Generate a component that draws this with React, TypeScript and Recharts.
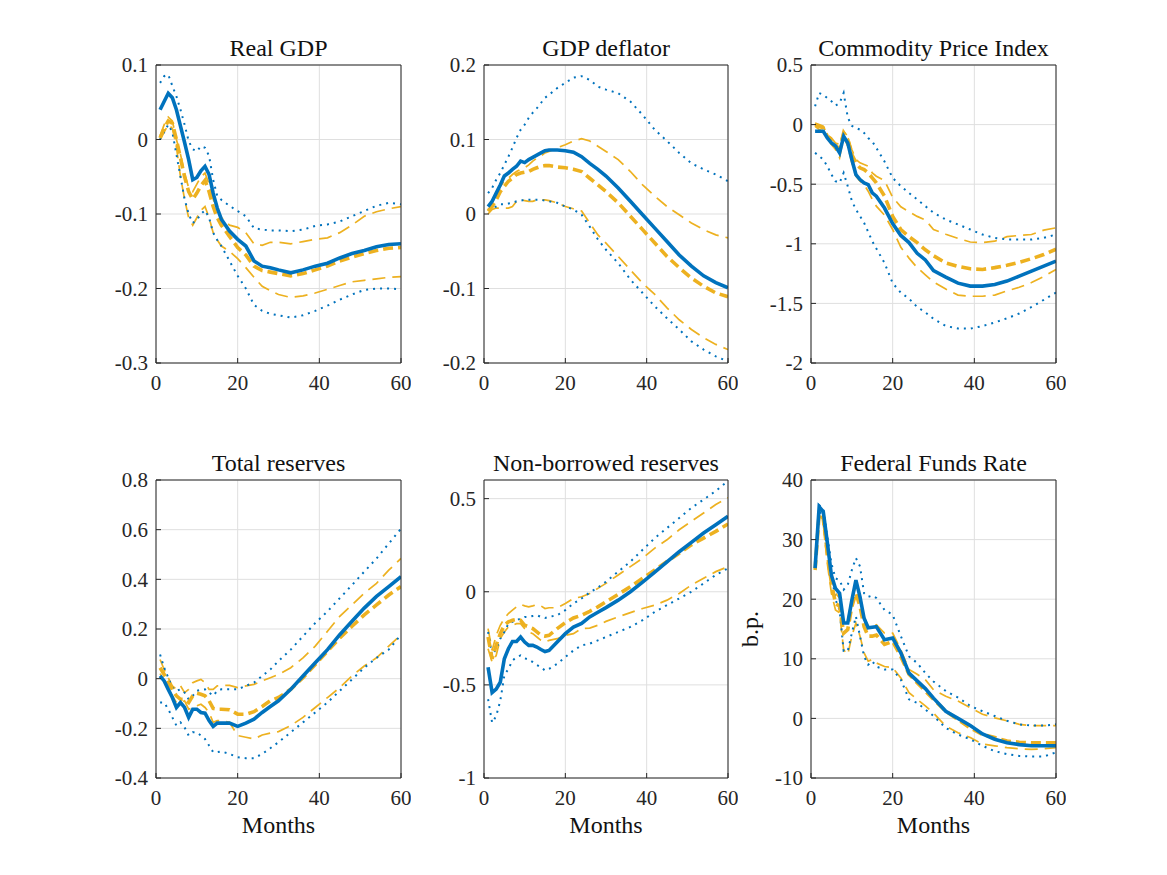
import React from 'react';
import { LineChart, Line, XAxis, YAxis, CartesianGrid } from 'recharts';

// ---------- data ----------
const MONTHS = [1, 2, 3, 4, 5, 6, 7, 8, 9, 10, 11, 12, 13, 14, 15, 16, 18, 20, 22, 24, 26, 28, 30, 33, 36, 39, 42, 45, 48, 51, 54, 57, 60];
const X_TICKS = [0, 20, 40, 60];

const TITLES = ['Real GDP', 'GDP deflator', 'Commodity Price Index', 'Total reserves', 'Non-borrowed reserves', 'Federal Funds Rate'];

const gdpTicks = [0.1, 0, -0.1, -0.2, -0.3];
const defTicks = [0.2, 0.1, 0, -0.1, -0.2];
const cpiTicks = [0.5, 0, -0.5, -1, -1.5, -2];
const trTicks = [0.8, 0.6, 0.4, 0.2, 0, -0.2, -0.4];
const nbrTicks = [0.5, 0, -0.5, -1];
const ffrTicks = [40, 30, 20, 10, 0, -10];

// Real GDP
const gdpBlue = [0.040, 0.051, 0.062, 0.056, 0.040, 0.018, -0.004, -0.027, -0.054, -0.051, -0.042, -0.036, -0.047, -0.072, -0.092, -0.107, -0.123, -0.134, -0.143, -0.163, -0.170, -0.172, -0.175, -0.179, -0.175, -0.170, -0.166, -0.159, -0.153, -0.149, -0.144, -0.141, -0.140];
const gdpBlueHi = [0.076, 0.085, 0.087, 0.072, 0.058, 0.040, 0.020, -0.002, -0.013, -0.016, -0.009, -0.011, -0.022, -0.054, -0.076, -0.081, -0.089, -0.096, -0.103, -0.119, -0.121, -0.122, -0.122, -0.123, -0.121, -0.116, -0.114, -0.110, -0.103, -0.096, -0.089, -0.085, -0.087];
const gdpBlueLo = [0.000, 0.010, 0.020, 0.010, -0.020, -0.050, -0.080, -0.100, -0.112, -0.108, -0.100, -0.095, -0.105, -0.125, -0.135, -0.143, -0.163, -0.183, -0.200, -0.222, -0.230, -0.234, -0.236, -0.239, -0.236, -0.230, -0.223, -0.215, -0.208, -0.202, -0.200, -0.200, -0.201];
const gdpOr = [0.002, 0.015, 0.025, 0.022, 0.000, -0.025, -0.050, -0.070, -0.080, -0.072, -0.062, -0.055, -0.070, -0.090, -0.105, -0.115, -0.130, -0.145, -0.155, -0.170, -0.176, -0.178, -0.180, -0.183, -0.180, -0.175, -0.170, -0.163, -0.158, -0.153, -0.149, -0.146, -0.145];
const gdpOrHi = [0.005, 0.020, 0.030, 0.025, 0.000, -0.020, -0.045, -0.065, -0.070, -0.060, -0.050, -0.045, -0.060, -0.080, -0.095, -0.105, -0.115, -0.118, -0.125, -0.140, -0.142, -0.138, -0.138, -0.140, -0.137, -0.134, -0.132, -0.125, -0.115, -0.103, -0.097, -0.093, -0.090];
const gdpOrLo = [0.000, 0.010, 0.020, 0.015, -0.010, -0.050, -0.080, -0.105, -0.115, -0.105, -0.095, -0.090, -0.105, -0.125, -0.135, -0.143, -0.150, -0.160, -0.172, -0.185, -0.197, -0.203, -0.208, -0.212, -0.210, -0.206, -0.201, -0.196, -0.191, -0.189, -0.187, -0.185, -0.184];

// GDP deflator
const defBlue = [0.010, 0.017, 0.028, 0.039, 0.051, 0.055, 0.060, 0.064, 0.071, 0.069, 0.073, 0.076, 0.079, 0.082, 0.085, 0.086, 0.086, 0.085, 0.083, 0.077, 0.068, 0.060, 0.051, 0.035, 0.017, -0.001, -0.019, -0.037, -0.055, -0.070, -0.083, -0.092, -0.099];
const defBlueHi = [0.028, 0.035, 0.046, 0.055, 0.066, 0.077, 0.089, 0.102, 0.113, 0.120, 0.129, 0.136, 0.142, 0.149, 0.156, 0.160, 0.169, 0.176, 0.183, 0.185, 0.180, 0.171, 0.167, 0.162, 0.151, 0.133, 0.113, 0.098, 0.082, 0.068, 0.060, 0.053, 0.044];
const defBlueLo = [0.006, 0.008, 0.010, 0.013, 0.013, 0.014, 0.015, 0.017, 0.018, 0.019, 0.019, 0.019, 0.019, 0.019, 0.018, 0.017, 0.015, 0.010, 0.006, -0.001, -0.017, -0.034, -0.048, -0.066, -0.088, -0.106, -0.124, -0.140, -0.155, -0.171, -0.182, -0.191, -0.198];
const defOr = [0.004, 0.010, 0.019, 0.030, 0.037, 0.044, 0.048, 0.053, 0.055, 0.056, 0.057, 0.060, 0.062, 0.064, 0.065, 0.065, 0.063, 0.062, 0.060, 0.057, 0.048, 0.039, 0.030, 0.015, -0.003, -0.021, -0.039, -0.057, -0.072, -0.086, -0.097, -0.106, -0.111];
const defOrHi = [0.004, 0.015, 0.026, 0.037, 0.044, 0.048, 0.053, 0.057, 0.060, 0.062, 0.066, 0.071, 0.075, 0.078, 0.082, 0.084, 0.089, 0.093, 0.098, 0.101, 0.098, 0.091, 0.084, 0.073, 0.057, 0.039, 0.024, 0.010, -0.001, -0.012, -0.021, -0.028, -0.032];
const defOrLo = [0.000, 0.006, 0.008, 0.008, 0.008, 0.008, 0.010, 0.017, 0.019, 0.018, 0.017, 0.017, 0.019, 0.019, 0.019, 0.018, 0.015, 0.010, 0.007, 0.004, -0.012, -0.028, -0.039, -0.057, -0.075, -0.093, -0.108, -0.126, -0.142, -0.155, -0.166, -0.175, -0.182];

// Commodity Price Index
const cpiBlue = [-0.056, -0.056, -0.056, -0.112, -0.154, -0.180, -0.237, -0.098, -0.154, -0.293, -0.419, -0.461, -0.489, -0.503, -0.573, -0.600, -0.700, -0.830, -0.930, -0.990, -1.080, -1.135, -1.225, -1.280, -1.330, -1.355, -1.355, -1.341, -1.313, -1.271, -1.229, -1.187, -1.145];
const cpiBlueHi = [0.154, 0.265, 0.251, 0.223, 0.196, 0.160, 0.180, 0.265, 0.060, -0.010, -0.028, -0.042, -0.070, -0.112, -0.140, -0.196, -0.310, -0.447, -0.517, -0.573, -0.628, -0.684, -0.740, -0.796, -0.838, -0.880, -0.922, -0.950, -0.964, -0.964, -0.964, -0.950, -0.922];
const cpiBlueLo = [-0.237, -0.265, -0.293, -0.349, -0.419, -0.475, -0.489, -0.405, -0.517, -0.640, -0.712, -0.768, -0.824, -0.900, -0.978, -1.040, -1.160, -1.330, -1.410, -1.460, -1.530, -1.575, -1.630, -1.690, -1.710, -1.712, -1.690, -1.660, -1.625, -1.585, -1.530, -1.470, -1.410];
const cpiOr = [0.000, -0.014, -0.028, -0.098, -0.140, -0.176, -0.209, -0.070, -0.126, -0.251, -0.321, -0.363, -0.377, -0.405, -0.447, -0.489, -0.600, -0.770, -0.880, -0.940, -0.990, -1.050, -1.100, -1.160, -1.190, -1.210, -1.215, -1.200, -1.180, -1.155, -1.125, -1.090, -1.045];
const cpiOrHi = [0.014, 0.000, -0.014, -0.084, -0.112, -0.154, -0.168, -0.056, -0.098, -0.209, -0.293, -0.321, -0.335, -0.349, -0.405, -0.433, -0.470, -0.610, -0.690, -0.730, -0.770, -0.800, -0.880, -0.920, -0.955, -0.985, -0.990, -0.978, -0.940, -0.930, -0.922, -0.885, -0.866];
const cpiOrLo = [-0.014, -0.042, -0.056, -0.112, -0.168, -0.209, -0.279, -0.098, -0.182, -0.321, -0.433, -0.475, -0.503, -0.559, -0.628, -0.684, -0.760, -0.880, -1.030, -1.120, -1.200, -1.260, -1.320, -1.380, -1.430, -1.440, -1.440, -1.430, -1.395, -1.365, -1.325, -1.275, -1.215];

// Total reserves
const trBlue = [0.011, -0.009, -0.043, -0.076, -0.116, -0.096, -0.116, -0.156, -0.123, -0.123, -0.136, -0.139, -0.169, -0.192, -0.179, -0.179, -0.179, -0.192, -0.179, -0.163, -0.136, -0.112, -0.089, -0.043, 0.011, 0.064, 0.117, 0.177, 0.231, 0.284, 0.331, 0.371, 0.411];
const trBlueHi = [0.097, 0.044, 0.004, -0.036, -0.049, -0.043, -0.056, -0.083, -0.069, -0.049, -0.045, -0.043, -0.056, -0.069, -0.049, -0.043, -0.043, -0.043, -0.029, -0.016, 0.011, 0.037, 0.071, 0.117, 0.171, 0.224, 0.271, 0.324, 0.377, 0.431, 0.484, 0.544, 0.604];
const trBlueLo = [-0.096, -0.096, -0.123, -0.156, -0.189, -0.176, -0.196, -0.229, -0.216, -0.216, -0.229, -0.243, -0.269, -0.296, -0.296, -0.293, -0.303, -0.316, -0.320, -0.320, -0.303, -0.280, -0.256, -0.216, -0.176, -0.136, -0.096, -0.049, -0.003, 0.044, 0.084, 0.117, 0.177];
const trOr = [0.044, 0.017, -0.016, -0.043, -0.069, -0.083, -0.083, -0.096, -0.069, -0.059, -0.063, -0.069, -0.089, -0.120, -0.123, -0.123, -0.125, -0.143, -0.143, -0.133, -0.112, -0.089, -0.076, -0.043, 0.004, 0.057, 0.111, 0.164, 0.211, 0.257, 0.297, 0.337, 0.371];
const trOrHi = [0.077, 0.037, 0.004, -0.029, -0.043, -0.029, -0.056, -0.043, -0.016, -0.009, -0.003, -0.016, -0.043, -0.043, -0.029, -0.027, -0.027, -0.036, -0.029, -0.023, -0.009, 0.004, 0.017, 0.044, 0.084, 0.131, 0.191, 0.251, 0.297, 0.344, 0.384, 0.437, 0.484];
const trOrLo = [0.020, -0.009, -0.043, -0.069, -0.096, -0.096, -0.089, -0.123, -0.116, -0.109, -0.103, -0.116, -0.136, -0.176, -0.169, -0.169, -0.176, -0.229, -0.236, -0.243, -0.227, -0.219, -0.213, -0.189, -0.156, -0.116, -0.076, -0.036, 0.011, 0.051, 0.084, 0.131, 0.177];

// Non-borrowed reserves
const nbrBlue = [-0.405, -0.541, -0.523, -0.486, -0.360, -0.306, -0.267, -0.267, -0.243, -0.270, -0.288, -0.288, -0.297, -0.310, -0.321, -0.315, -0.270, -0.225, -0.190, -0.170, -0.135, -0.110, -0.085, -0.045, 0.000, 0.052, 0.105, 0.160, 0.215, 0.265, 0.315, 0.360, 0.405];
const nbrBlueHi = [-0.216, -0.342, -0.306, -0.252, -0.216, -0.171, -0.162, -0.153, -0.144, -0.135, -0.135, -0.130, -0.126, -0.135, -0.141, -0.135, -0.126, -0.099, -0.063, -0.036, -0.004, 0.022, 0.054, 0.108, 0.162, 0.225, 0.288, 0.342, 0.396, 0.450, 0.495, 0.541, 0.595];
const nbrBlueLo = [-0.577, -0.703, -0.667, -0.586, -0.450, -0.414, -0.369, -0.351, -0.342, -0.357, -0.364, -0.378, -0.393, -0.405, -0.423, -0.414, -0.387, -0.351, -0.315, -0.288, -0.279, -0.261, -0.243, -0.216, -0.189, -0.153, -0.108, -0.072, -0.036, 0.000, 0.045, 0.090, 0.126];
const nbrOr = [-0.243, -0.360, -0.288, -0.225, -0.180, -0.162, -0.153, -0.148, -0.153, -0.180, -0.189, -0.198, -0.216, -0.234, -0.238, -0.234, -0.198, -0.166, -0.141, -0.126, -0.105, -0.081, -0.054, -0.014, 0.027, 0.072, 0.117, 0.162, 0.207, 0.252, 0.288, 0.324, 0.364];
const nbrOrHi = [-0.198, -0.315, -0.234, -0.180, -0.144, -0.117, -0.099, -0.081, -0.068, -0.076, -0.081, -0.076, -0.068, -0.076, -0.090, -0.086, -0.086, -0.063, -0.036, -0.027, -0.009, 0.018, 0.045, 0.090, 0.135, 0.180, 0.234, 0.279, 0.333, 0.378, 0.423, 0.468, 0.505];
const nbrOrLo = [-0.306, -0.378, -0.342, -0.252, -0.216, -0.189, -0.180, -0.171, -0.171, -0.198, -0.216, -0.225, -0.243, -0.261, -0.270, -0.261, -0.252, -0.234, -0.225, -0.198, -0.195, -0.180, -0.159, -0.135, -0.112, -0.090, -0.072, -0.045, -0.009, 0.036, 0.072, 0.108, 0.135];

// Federal Funds Rate (b.p.)
const ffrBlue = [25.2, 35.5, 34.7, 29.5, 24.0, 21.8, 21.0, 16.0, 16.0, 19.8, 23.2, 20.4, 16.8, 15.2, 15.3, 15.4, 13.2, 13.5, 11.0, 7.6, 6.3, 5.0, 3.4, 1.2, 0.0, -1.2, -2.6, -3.5, -4.1, -4.4, -4.6, -4.6, -4.6];
const ffrBlueHi = [25.2, 35.8, 35.2, 30.5, 26.0, 23.5, 23.2, 21.6, 22.4, 24.9, 26.9, 25.5, 21.0, 20.4, 20.6, 20.2, 18.2, 17.4, 13.8, 10.4, 9.3, 7.6, 6.2, 4.6, 3.5, 2.1, 1.2, 0.4, -0.4, -1.0, -1.2, -1.2, -1.0];
const ffrBlueLo = [25.2, 35.2, 33.3, 28.8, 24.3, 19.9, 18.2, 11.3, 11.3, 14.3, 17.1, 13.8, 10.4, 9.0, 9.6, 8.7, 8.2, 8.2, 6.5, 3.2, 2.6, 1.5, 0.4, -1.6, -2.7, -3.5, -4.6, -5.5, -6.0, -6.3, -6.4, -6.4, -5.7];
const ffrOr = [24.9, 34.4, 33.5, 27.7, 22.7, 19.3, 18.8, 14.3, 14.9, 18.8, 21.0, 18.8, 15.4, 13.8, 13.8, 14.0, 12.4, 12.9, 10.4, 7.4, 6.0, 4.6, 3.2, 1.2, -0.2, -1.6, -2.7, -3.2, -3.8, -4.0, -4.1, -4.1, -4.1];
const ffrOrHi = [25.5, 34.7, 34.1, 28.8, 23.8, 21.0, 20.2, 16.0, 16.5, 20.2, 22.1, 20.2, 17.1, 15.4, 15.4, 15.7, 14.3, 14.3, 11.5, 8.2, 7.4, 6.5, 4.8, 3.7, 2.9, 1.8, 0.7, 0.1, -0.4, -1.0, -1.2, -1.2, -1.2];
const ffrOrLo = [24.9, 33.8, 32.7, 26.0, 21.0, 18.2, 17.7, 11.5, 10.7, 13.8, 16.0, 13.8, 11.0, 9.6, 9.9, 9.3, 8.7, 8.5, 6.8, 4.3, 3.2, 2.1, 0.9, -1.3, -2.4, -3.2, -4.3, -4.6, -4.9, -5.1, -5.2, -5.1, -4.9];

// ---------- styling / layout ----------
const BLUE = '#0072BD';
const ORANGE = '#EDB120';
const AXIS = '#262626';
const FONT = '"Liberation Serif", "Times New Roman", serif';

const COLS = [
  { left: 156, right: 401 },
  { left: 484, right: 728 },
  { left: 811, right: 1056 },
];
const ROWS = [
  { top: 65, bottom: 363 },
  { top: 480, bottom: 778 },
];

type PanelDef = {
  title: string;
  col: number;
  row: number;
  domain: [number, number];
  ticks: number[];
  s: number[][]; // blue, blueHi, blueLo, orange, orangeHi, orangeLo
};

const PANELS: PanelDef[] = [
  { title: TITLES[0], col: 0, row: 0, domain: [-0.3, 0.1], ticks: gdpTicks, s: [gdpBlue, gdpBlueHi, gdpBlueLo, gdpOr, gdpOrHi, gdpOrLo] },
  { title: TITLES[1], col: 1, row: 0, domain: [-0.2, 0.2], ticks: defTicks, s: [defBlue, defBlueHi, defBlueLo, defOr, defOrHi, defOrLo] },
  { title: TITLES[2], col: 2, row: 0, domain: [-2, 0.5], ticks: cpiTicks, s: [cpiBlue, cpiBlueHi, cpiBlueLo, cpiOr, cpiOrHi, cpiOrLo] },
  { title: TITLES[3], col: 0, row: 1, domain: [-0.4, 0.8], ticks: trTicks, s: [trBlue, trBlueHi, trBlueLo, trOr, trOrHi, trOrLo] },
  { title: TITLES[4], col: 1, row: 1, domain: [-1, 0.6], ticks: nbrTicks, s: [nbrBlue, nbrBlueHi, nbrBlueLo, nbrOr, nbrOrHi, nbrOrLo] },
  { title: TITLES[5], col: 2, row: 1, domain: [-10, 40], ticks: ffrTicks, s: [ffrBlue, ffrBlueHi, ffrBlueLo, ffrOr, ffrOrHi, ffrOrLo] },
];

const PADL = 70;
const PADR = 10;
const PADT = 40;
const PADB = 70;

function Panel({ p }: { p: PanelDef }) {
  const c = COLS[p.col];
  const r = ROWS[p.row];
  const [b, bh, bl, o, oh, ol] = p.s;
  const data = MONTHS.map((m, i) => ({ m, b: b[i], bh: bh[i], bl: bl[i], o: o[i], oh: oh[i], ol: ol[i] }));
  const w = c.right - c.left + PADL + PADR;
  const h = r.bottom - r.top + PADT + PADB;
  const tickStyle = { fill: AXIS, fontSize: 21, fontFamily: FONT };
  return (
    <div style={{ position: 'absolute', left: c.left - PADL, top: r.top - PADT }}>
      <LineChart width={w} height={h} data={data} margin={{ top: PADT - 1, right: PADR - 1, left: 0, bottom: PADB - 30 }}>
        <CartesianGrid stroke="#dfdfdf" strokeWidth={1} />
        <XAxis
          dataKey="m"
          type="number"
          domain={[0, 60]}
          ticks={X_TICKS}
          interval={0}
          height={30}
          tickSize={-5}
          tickMargin={17}
          stroke={AXIS}
          tick={tickStyle}
          allowDataOverflow
        />
        <XAxis
          xAxisId="top"
          orientation="top"
          dataKey="m"
          type="number"
          domain={[0, 60]}
          ticks={X_TICKS}
          interval={0}
          height={1}
          tickSize={-5}
          tick={false}
          stroke={AXIS}
          allowDataOverflow
        />
        <YAxis
          type="number"
          domain={p.domain}
          ticks={p.ticks}
          interval={0}
          width={PADL}
          tickSize={-5}
          tickMargin={13}
          stroke={AXIS}
          tick={tickStyle}
          allowDataOverflow
        />
        <YAxis
          yAxisId="right"
          orientation="right"
          type="number"
          domain={p.domain}
          ticks={p.ticks}
          interval={0}
          width={1}
          tickSize={-5}
          tick={false}
          stroke={AXIS}
          allowDataOverflow
        />
        <Line dataKey="oh" type="linear" stroke={ORANGE} strokeWidth={1.7} strokeDasharray="13 7" dot={false} isAnimationActive={false} />
        <Line dataKey="ol" type="linear" stroke={ORANGE} strokeWidth={1.7} strokeDasharray="13 7" dot={false} isAnimationActive={false} />
        <Line dataKey="bh" type="linear" stroke={BLUE} strokeWidth={2} strokeDasharray="2 5" dot={false} isAnimationActive={false} />
        <Line dataKey="bl" type="linear" stroke={BLUE} strokeWidth={2} strokeDasharray="2 5" dot={false} isAnimationActive={false} />
        <Line dataKey="o" type="linear" stroke={ORANGE} strokeWidth={3.6} strokeDasharray="10 5" dot={false} isAnimationActive={false} />
        <Line dataKey="b" type="linear" stroke={BLUE} strokeWidth={3.6} dot={false} isAnimationActive={false} />
      </LineChart>
    </div>
  );
}

export default function App() {
  return (
    <div style={{ position: 'absolute', left: 0, top: 0, width: 1167, height: 875, background: '#ffffff', fontFamily: FONT }}>
      {PANELS.map((p, i) => (
        <Panel key={i} p={p} />
      ))}
      <svg width={1167} height={875} style={{ position: 'absolute', left: 0, top: 0, pointerEvents: 'none' }}>
        {PANELS.map((p, i) => {
          const c = COLS[p.col];
          const r = ROWS[p.row];
          return (
            <text key={'t' + i} x={(c.left + c.right) / 2} y={r.top - 9} textAnchor="middle" fontFamily={FONT} fontSize={24} fill="#111">
              {p.title}
            </text>
          );
        })}
        {COLS.map((c, i) => (
          <text key={'m' + i} x={(c.left + c.right) / 2} y={ROWS[1].bottom + 55} textAnchor="middle" fontFamily={FONT} fontSize={24} fill="#111">
            Months
          </text>
        ))}
        <text
          x={758}
          y={(ROWS[1].top + ROWS[1].bottom) / 2}
          textAnchor="middle"
          fontFamily={FONT}
          fontSize={24}
          fill="#111"
          transform={`rotate(-90 758 ${(ROWS[1].top + ROWS[1].bottom) / 2})`}
        >
          b.p.
        </text>
      </svg>
    </div>
  );
}
